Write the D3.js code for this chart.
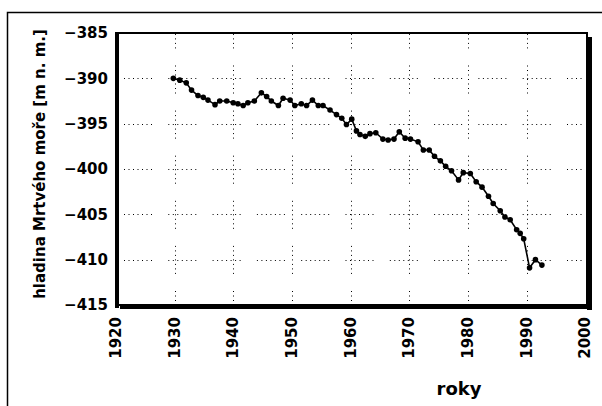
<!DOCTYPE html>
<html lang="cs">
<head>
<meta charset="UTF-8">
<title>Hladina Mrtvého moře</title>
<script src="https://cdn.jsdelivr.net/npm/d3@7/dist/d3.min.js"></script>
<style>
  html, body { margin: 0; padding: 0; background: #fff; }
  svg { display: block; }
  text { font-family: "DejaVu Sans", sans-serif; font-weight: bold; fill: #000; }
  .grid { stroke: #000; stroke-width: 1; fill: none; }
</style>
</head>
<body>
<div id="chart"></div>
<script>
// roky měření a hladina (m n. m.)
const years = [
  1929.6, 1930.7, 1931.8, 1932.7, 1933.8, 1934.7, 1935.5, 1936.7, 1937.5, 1938.7,
  1939.8, 1940.6, 1941.5, 1942.3, 1943.4, 1944.6, 1945.5, 1946.3, 1947.5, 1948.3,
  1949.5, 1950.3, 1951.4, 1952.3, 1953.3, 1954.3, 1955.1, 1956.3, 1957.4, 1958.3,
  1959.1, 1960.0, 1960.8, 1961.4, 1962.3, 1963.1, 1964.1, 1965.3, 1966.2, 1967.2,
  1968.1, 1969.1, 1970.0, 1971.3, 1972.2, 1973.2, 1974.1, 1975.1, 1976.0, 1977.0,
  1978.2, 1979.0, 1980.2, 1981.2, 1982.2, 1983.3, 1984.1, 1985.3, 1986.1, 1987.0,
  1988.1, 1988.7, 1989.3, 1990.3, 1991.3, 1992.4
];
const levels = [
  -390.0, -390.2, -390.5, -391.3, -391.9, -392.1, -392.4, -392.9, -392.5, -392.5,
  -392.7, -392.8, -393.0, -392.7, -392.5, -391.6, -392.0, -392.5, -393.0, -392.2,
  -392.4, -393.0, -392.8, -393.0, -392.4, -393.0, -393.0, -393.5, -394.0, -394.4,
  -395.1, -394.5, -395.8, -396.2, -396.4, -396.1, -396.0, -396.7, -396.8, -396.7,
  -395.9, -396.6, -396.7, -397.0, -397.9, -397.9, -398.6, -399.1, -399.7, -400.2,
  -401.2, -400.4, -400.5, -401.4, -402.0, -403.0, -403.8, -404.6, -405.3, -405.6,
  -406.7, -407.1, -407.7, -410.9, -410.0, -410.6
];
const xTicks = [1920, 1930, 1940, 1950, 1960, 1970, 1980, 1990, 2000];
const yTicks = [-385, -390, -395, -400, -405, -410, -415];
const xTitle = "roky";
const yTitle = "hladina Mrtvého moře [m n. m.]";

const W = 602, H = 406;
const box = { left: 117, right: 587, top: 33, bottom: 305 };

const svg = d3.select("#chart").append("svg")
  .attr("width", W).attr("height", H);

const x = d3.scaleLinear().domain([1920, 2000]).range([box.left, box.right - 0.5]);
const y = d3.scaleLinear().domain([-415, -385]).range([box.bottom, box.top]);

// vnější rámeček (přesahuje vpravo a dole)
svg.append("rect")
  .attr("x", 7.5).attr("y", 12.5)
  .attr("width", W + 20).attr("height", H + 20)
  .attr("fill", "none").attr("stroke", "#000").attr("stroke-width", 1.5);

// tečkovaná mřížka – úseky teček s mezerami
function dotPattern(n, period, gap) {
  const a = [];
  for (let i = 0; i < n - 1; i++) a.push(1, period - 1);
  a.push(1, gap);
  return a.join(",");
}
const hPattern = dotPattern(7, 4.5, 16.3);
const vPattern = dotPattern(7, 4.5, 17.1);

svg.append("g").selectAll("line")
  .data(yTicks.filter(d => d !== -385 && d !== -415))
  .join("line")
  .attr("class", "grid")
  .attr("x1", box.left + 7).attr("x2", box.right - 3)
  .attr("y1", d => Math.round(y(d)) + 0.5)
  .attr("y2", d => Math.round(y(d)) + 0.5)
  .attr("stroke-dasharray", hPattern);

svg.append("g").selectAll("line")
  .data(xTicks.slice(1))
  .join("line")
  .attr("class", "grid")
  .attr("x1", d => Math.round(x(d)) - 0.5)
  .attr("x2", d => Math.round(x(d)) - 0.5)
  .attr("y1", box.bottom).attr("y2", box.top)
  .attr("stroke-dasharray", vPattern)
  .attr("stroke-dashoffset", 14);

// stín rámečku grafu
svg.append("rect")
  .attr("x", box.right).attr("y", box.top + 4)
  .attr("width", 5).attr("height", box.bottom - box.top + 1)
  .attr("fill", "#000");
svg.append("rect")
  .attr("x", box.left + 3).attr("y", box.bottom - 1)
  .attr("width", box.right - box.left + 2).attr("height", 5)
  .attr("fill", "#000");

// rámeček grafu
svg.append("rect")
  .attr("x", box.left).attr("y", box.top)
  .attr("width", box.right - box.left).attr("height", box.bottom - box.top)
  .attr("fill", "none").attr("stroke", "#000").attr("stroke-width", 2);
svg.append("line")
  .attr("x1", box.left).attr("x2", box.left)
  .attr("y1", box.top - 1).attr("y2", box.bottom + 3)
  .attr("stroke", "#000").attr("stroke-width", 4);

// data
const pts = years.map((d, i) => [d, levels[i]]);
svg.append("path")
  .datum(pts)
  .attr("fill", "none").attr("stroke", "#000").attr("stroke-width", 1.6)
  .attr("d", d3.line().x(d => x(d[0])).y(d => y(d[1])));

svg.append("g").selectAll("circle")
  .data(pts)
  .join("circle")
  .attr("cx", d => x(d[0]))
  .attr("cy", d => y(d[1]))
  .attr("r", 2.8)
  .attr("fill", "#000");

// popisky os
svg.append("g").selectAll("text")
  .data(yTicks)
  .join("text")
  .attr("x", 108).attr("y", d => y(d))
  .attr("dy", "0.36em")
  .attr("text-anchor", "end")
  .style("font-size", "15px")
  .text(d => "\u2212" + Math.abs(d));

svg.append("g").selectAll("text")
  .data(xTicks)
  .join("text")
  .attr("transform", d => `translate(${x(d) - 1.5},317) rotate(-90)`)
  .attr("dy", "0.36em")
  .attr("text-anchor", "end")
  .style("font-size", "15px")
  .text(d => d);

svg.append("text")
  .attr("x", 459).attr("y", 395)
  .attr("text-anchor", "middle")
  .style("font-size", "18px")
  .text(xTitle);

svg.append("text")
  .attr("transform", "translate(45,164) rotate(-90)")
  .attr("text-anchor", "middle")
  .style("font-size", "15px")
  .text(yTitle);
</script>
</body>
</html>
